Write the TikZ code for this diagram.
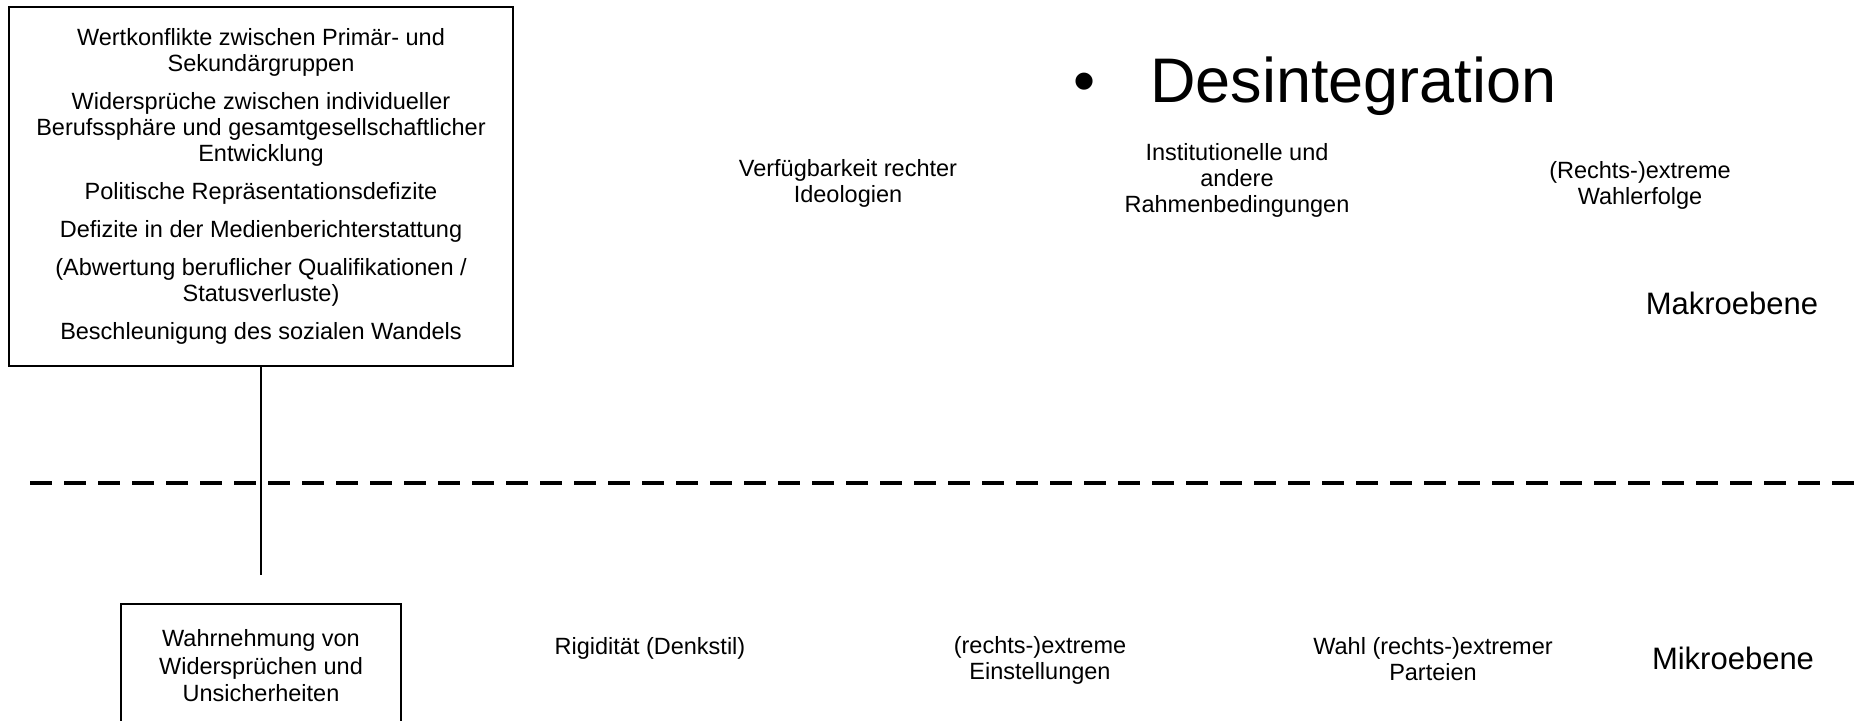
\documentclass[tikz,border=0pt]{standalone}
\usepackage{fontspec}
\setmainfont{Liberation Sans}

\begin{document}
\begin{tikzpicture}[x=1pt,y=-1pt,
	txt/.style={font=\fontsize{23.5}{26}\selectfont,align=center,inner sep=0pt},
	ebene/.style={font=\fontsize{31}{34}\selectfont,inner sep=0pt},
	kasten/.style={draw,line width=2pt,inner sep=0pt}]
		\useasboundingbox (0,0) rectangle (1865,720);
		\clip (0,0) rectangle (1865,720);
		\node[kasten,txt,minimum width=504pt,minimum height=359pt] (K) at (261,186.5) {Wertkonflikte zwischen Primär- und\\Sekundärgruppen\\[12pt]Widersprüche zwischen individueller\\Berufssphäre und gesamtgesellschaftlicher\\Entwicklung\\[12pt]Politische Repräsentationsdefizite\\[12pt]Defizite in der Medienberichterstattung\\[12pt](Abwertung beruflicher Qualifikationen /\\Statusverluste)\\[12pt]Beschleunigung des sozialen Wandels};
		\node[kasten,txt,font=\fontsize{23.5}{27.5}\selectfont,minimum width=280pt,minimum height=124pt] (W) at (261,666) {Wahrnehmung von\\Widersprüchen und\\Unsicherheiten};
		\path (261,575) coordinate (E) (30,483) coordinate (L) (1865,483) coordinate (R);
		\draw[line width=1.5pt] (K.south)--(E);
		\draw[line width=3.5pt,dash pattern=on 22pt off 12pt] (L)--(R);
		\node[font=\fontsize{63}{70}\selectfont,inner sep=0pt,anchor=base west] (D) at (1073,102) {\textbullet\hspace{55pt}Desintegration};
		\foreach \n/\x/\y/\lab in {verf/848/183/{Verfügbarkeit rechter\\Ideologien},inst/1237/180/{Institutionelle und\\andere\\Rahmenbedingungen},wahlerf/1640/185/{(Rechts-)extreme\\Wahlerfolge},rig/650/648/{Rigidität (Denkstil)},einst/1040/660/{(rechts-)extreme\\Einstellungen},part/1433/659/{Wahl (rechts-)extremer\\Parteien}}
			\node[txt] (\n) at (\x,\y) {\lab};
		\node[ebene] (makro) at (1732,303) {Makroebene};
		\node[ebene] (mikro) at (1733,658) {Mikroebene};
	\end{tikzpicture}
\end{document}
